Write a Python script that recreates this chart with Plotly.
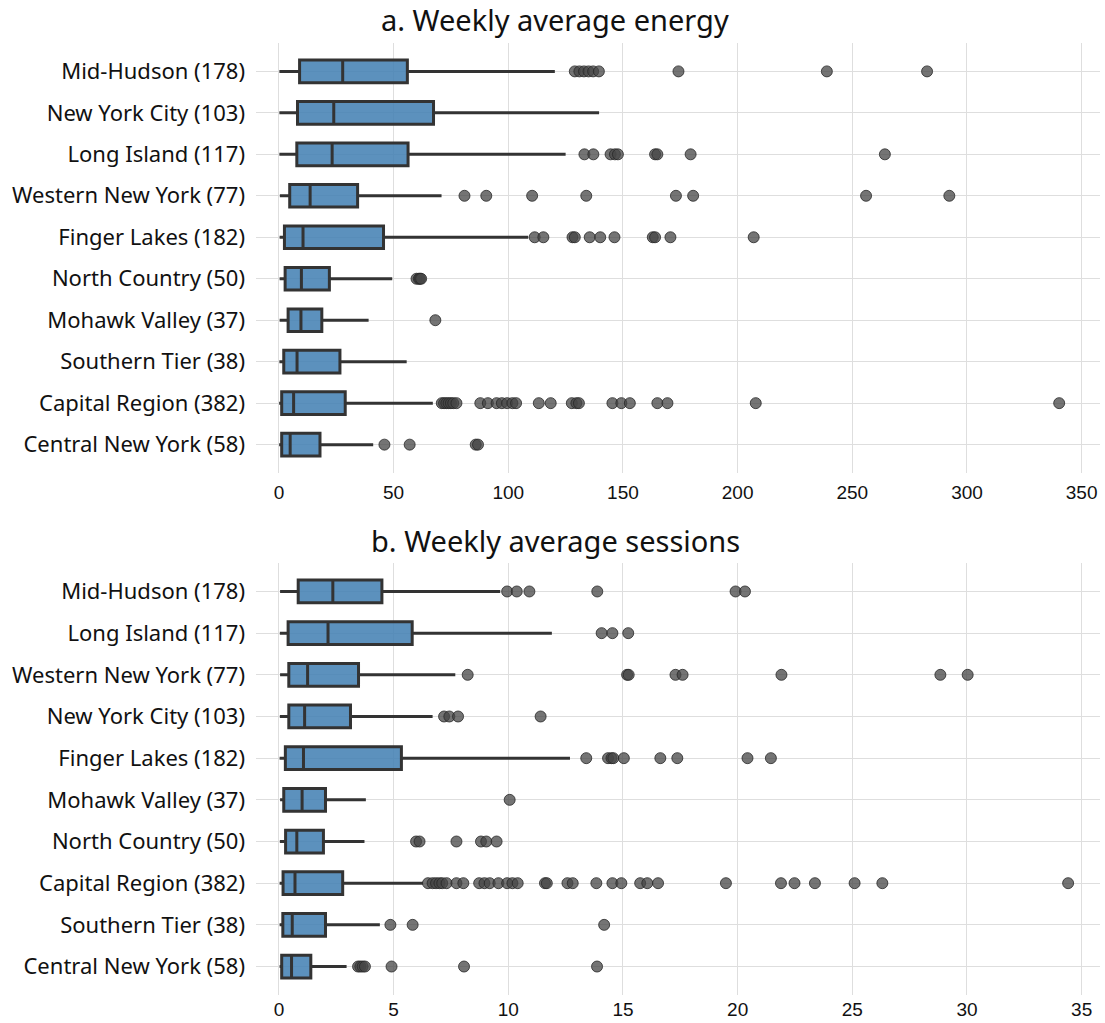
import plotly.graph_objects as go

# ---------------- Panel a: Weekly average energy ----------------
energy_regions = ["Mid-Hudson (178)", "New York City (103)", "Long Island (117)",
                  "Western New York (77)", "Finger Lakes (182)", "North Country (50)",
                  "Mohawk Valley (37)", "Southern Tier (38)", "Capital Region (382)",
                  "Central New York (58)"]
energy_low = [0.2, 0.2, 0.2, 0.4, 0.3, 0.3, 0.3, 0.2, 0.1, 0.1]
energy_q1 = [9.0, 8.1, 7.8, 4.7, 2.4, 2.7, 4.0, 2.1, 1.2, 1.2]
energy_med = [27.8, 23.9, 23.2, 13.6, 10.5, 9.8, 9.6, 7.9, 6.4, 4.9]
energy_q3 = [56.0, 67.4, 56.3, 34.3, 45.6, 22.0, 18.7, 26.6, 28.9, 17.9]
energy_high = [120.3, 139.6, 125.0, 70.9, 108.7, 49.4, 39.1, 55.7, 67.1, 41.1]

energy_outliers = {
    "Mid-Hudson (178)": [129, 131, 133, 135, 137, 139.5, 174.2, 238.9, 282.6],
    "New York City (103)": [],
    "Long Island (117)": [133.2, 137.1, 144.6, 146.5, 147.8, 164.0, 165.0, 179.5, 264.2],
    "Western New York (77)": [80.9, 90.4, 110.4, 134.0, 173.1, 180.6, 256.0, 292.3],
    "Finger Lakes (182)": [111.5, 115.3, 128.0, 129.0, 135.5, 140.1, 146.3, 163.0, 164.0,
                           170.7, 207.0],
    "North Country (50)": [60.0, 61.0, 61.5, 62.0],
    "Mohawk Valley (37)": [68.2],
    "Southern Tier (38)": [],
    "Capital Region (382)": [71, 72, 73, 74, 75, 76, 77.4, 87.8, 91.1, 94.9, 97.2, 99.5,
                             101.8, 103.4, 113.3, 118.5, 127.7, 129.7, 130.8, 145.4,
                             149.3, 153.0, 165.0, 169.4, 207.9, 340.2],
    "Central New York (58)": [46.0, 57.0, 85.8, 86.8],
}

# ---------------- Panel b: Weekly average sessions ----------------
session_regions = ["Mid-Hudson (178)", "Long Island (117)", "Western New York (77)",
                   "New York City (103)", "Finger Lakes (182)", "Mohawk Valley (37)",
                   "North Country (50)", "Capital Region (382)", "Southern Tier (38)",
                   "Central New York (58)"]
session_low = [0.05, 0.04, 0.05, 0.04, 0.03, 0.05, 0.04, 0.03, 0.03, 0.03]
session_q1 = [0.84, 0.40, 0.43, 0.43, 0.28, 0.21, 0.29, 0.18, 0.17, 0.12]
session_med = [2.35, 2.14, 1.25, 1.12, 1.07, 1.01, 0.78, 0.70, 0.58, 0.55]
session_q3 = [4.49, 5.81, 3.47, 3.12, 5.34, 2.03, 1.94, 2.78, 2.03, 1.39]
session_high = [9.65, 11.90, 7.69, 6.70, 12.69, 3.79, 3.73, 6.28, 4.40, 2.95]

session_outliers = {
    "Mid-Hudson (178)": [9.95, 10.37, 10.92, 13.88, 19.91, 20.32],
    "Long Island (117)": [14.07, 14.54, 15.23],
    "Western New York (77)": [8.23, 15.18, 15.25, 17.29, 17.60, 21.91, 28.84, 30.03],
    "New York City (103)": [7.20, 7.43, 7.81, 11.41],
    "Finger Lakes (182)": [13.40, 14.35, 14.50, 14.58, 15.04, 16.63, 17.37, 20.43, 21.45],
    "Mohawk Valley (37)": [10.06],
    "North Country (50)": [5.98, 6.13, 7.74, 8.81, 9.04, 9.49],
    "Capital Region (382)": [6.50, 6.70, 6.85, 7.00, 7.12, 7.31, 7.74, 8.04, 8.73, 8.96,
                             9.19, 9.57, 9.95, 10.18, 10.41, 11.60, 11.68, 12.58, 12.81,
                             13.84, 14.54, 14.93, 15.75, 16.06, 16.53, 19.49, 21.89,
                             22.48, 23.37, 25.10, 26.31, 34.41],
    "Southern Tier (38)": [4.86, 5.83, 14.18],
    "Central New York (58)": [3.45, 3.55, 3.65, 3.75, 4.91, 8.07, 13.87],
}

energy_ticks = [0, 50, 100, 150, 200, 250, 300, 350]
session_ticks = [0, 5, 10, 15, 20, 25, 30, 35]

# ---------------- styles ----------------
BOX_FILL = "rgba(70,130,180,0.88)"
BOX_LINE = "#333333"
PT_FILL = "rgba(70,70,70,0.75)"
PT_LINE = "rgba(40,40,40,0.8)"
GRID = "#dedede"

fig = go.Figure()


def add_panel(regions, low, q1, med, q3, high, outliers, xa, ya):
    fig.add_trace(go.Box(
        y=regions, q1=q1, median=med, q3=q3, lowerfence=low, upperfence=high,
        orientation="h", fillcolor=BOX_FILL, line=dict(color=BOX_LINE, width=3),
        whiskerwidth=0, boxpoints=False, showlegend=False, xaxis=xa, yaxis=ya,
        hoverinfo="skip",
    ))
    xs, ys = [], []
    for r in regions:
        for v in outliers[r]:
            xs.append(v)
            ys.append(r)
    fig.add_trace(go.Scatter(
        x=xs, y=ys, mode="markers", showlegend=False, xaxis=xa, yaxis=ya,
        marker=dict(size=11, color=PT_FILL, line=dict(color=PT_LINE, width=1)),
        hoverinfo="skip",
    ))


add_panel(energy_regions, energy_low, energy_q1, energy_med, energy_q3, energy_high,
          energy_outliers, "x", "y")
add_panel(session_regions, session_low, session_q1, session_med, session_q3, session_high,
          session_outliers, "x2", "y2")

H = 1023.0
top_dom = [1 - 473 / H, 1 - 43 / H]
bot_dom = [1 - 995 / H, 1 - 563 / H]

tick_font = dict(family="Liberation Sans, Arial, sans-serif", size=19, color="#111111")
cat_font = dict(family="Noto Sans, Lato, sans-serif", size=22, color="#111111")
title_font = dict(family="Noto Sans, Lato, sans-serif", size=29, color="#111111")

common_x = dict(showgrid=True, gridcolor=GRID, gridwidth=1, zeroline=False,
                showline=False, ticks="", tickfont=tick_font, automargin=False)
common_y = dict(showgrid=True, gridcolor=GRID, gridwidth=1, zeroline=False,
                showline=False, ticks="", tickfont=cat_font, automargin=False,
                type="category", ticklabelstandoff=10)

# title centre in paper x (figure centre ~555 px, plot area 256..1100 px)
title_x = (555 - 256) / (1100 - 256)

fig.update_layout(
    width=1105, height=1023,
    margin=dict(l=256, r=5, t=0, b=0),
    paper_bgcolor="white", plot_bgcolor="white",
    boxgap=0.22,
    xaxis=dict(**common_x, anchor="y", range=[-10, 358], tickvals=energy_ticks,
               ticklabelstandoff=6),
    yaxis=dict(**common_y, domain=top_dom, anchor="x",
               categoryorder="array", categoryarray=energy_regions[::-1]),
    xaxis2=dict(**common_x, anchor="y2", range=[-1.0, 35.8], tickvals=session_ticks,
                ticklabelstandoff=1),
    yaxis2=dict(**common_y, domain=bot_dom, anchor="x2",
                categoryorder="array", categoryarray=session_regions[::-1]),
    annotations=[
        dict(text="a. Weekly average energy", x=title_x, y=1 - 20 / H, xref="paper",
             yref="paper", xanchor="center", yanchor="middle", showarrow=False,
             font=title_font),
        dict(text="b. Weekly average sessions", x=title_x, y=1 - 540 / H, xref="paper",
             yref="paper", xanchor="center", yanchor="middle", showarrow=False,
             font=title_font),
    ],
)

fig.write_html("out.html")
